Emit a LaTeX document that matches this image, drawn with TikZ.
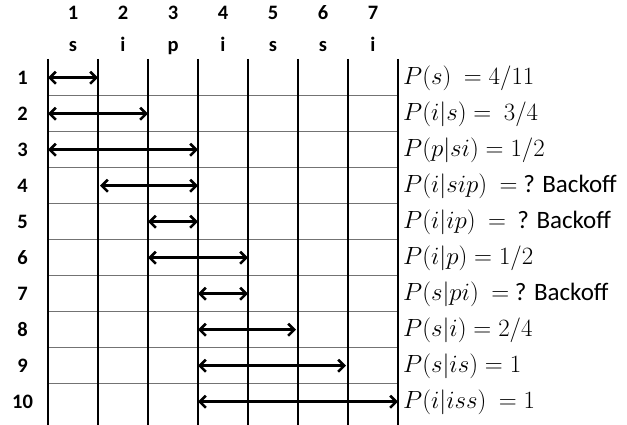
\documentclass[tikz,border=0pt]{standalone}
\usepackage{fontspec}
\setmainfont{Carlito}
\usetikzlibrary{arrows.meta}
\begin{document}
\begin{tikzpicture}[x=1pt,y=-1pt,
  gridv/.style={line width=1.7pt,black},
  gridh/.style={line width=0.8pt,black!55},
  span/.style={line width=2.6pt,{Straight Barb[length=6pt,width=12pt]}-{Straight Barb[length=6pt,width=12pt]}},
  hdr/.style={anchor=base,inner sep=0pt,font=\fontsize{20.5}{24}\selectfont\bfseries},
  prob/.style={anchor=base west,inner sep=0pt,font=\fontsize{25}{30}\selectfont}]
\useasboundingbox (0,0) rectangle (627,425);
% column headers
\foreach \i/\l in {1/s,2/i,3/p,4/i,5/s,6/s,7/i}{
  \node[hdr] (num\i) at (23+50*\i,19.5) {\i};
  \node[hdr] (let\i) at (23+50*\i,51.5) {\l};
}
% vertical grid lines
\foreach \i in {0,...,7}{
  \coordinate (t\i) at (48+50*\i,59);
  \coordinate (b\i) at (48+50*\i,425);
}
% horizontal grid lines
\foreach \k in {1,...,9}{
  \coordinate (hl\k) at (48,95.7+36*\k-36);
  \coordinate (hr\k) at (398,95.7+36*\k-36);
  \draw[gridh] (hl\k) -- (hr\k);
}
\foreach \i in {0,...,7}{
  \draw[gridv] (t\i) -- (b\i);
}
% rows
\foreach \r/\a/\b in {1/0/1,2/0/2,3/0/3,4/1/3,5/2/3,6/2/4,7/3/4,8/3/5,9/3/6,10/3/7}{
  \node[hdr] (row\r) at (22.5,84.2+36*\r-36) {\r};
  \coordinate (s\r) at (48+50*\a,77.7+36*\r-36);
  \coordinate (e\r) at (48+50*\b,77.7+36*\r-36);
  \coordinate (p\r) at (403,84.7+36*\r-36);
}
\draw[span] (s1) -- (e1);
\draw[span] (s2) -- (e2);
\draw[span] (s3) -- (e3);
\draw[span,shorten <=2pt] (s4) -- (e4);
\draw[span] (s5) -- (e5);
\draw[span] (s6) -- (e6);
\draw[span] (s7) -- (e7);
\draw[span,shorten >=2pt] (s8) -- (e8);
\draw[span,shorten >=2pt] (s9) -- (e9);
\draw[span] (s10) -- (e10);
% probabilities
\node[prob] (q1) at (p1) {$P(s)\ = 4/11$};
\node[prob] (q2) at (p2) {$P(i|s) =\ 3/4$};
\node[prob] (q3) at (p3) {$P(p|si) = 1/2$};
\node[prob] (q4) at (p4) {$P(i|sip)\ = $ ? Backoff};
\node[prob] (q5) at (p5) {$P(i|ip)\ =\ $ ? Backoff};
\node[prob] (q6) at (p6) {$P(i|p) = 1/2$};
\node[prob] (q7) at (p7) {$P(s|pi)\ = $ ? Backoff};
\node[prob] (q8) at (p8) {$P(s|i) = 2/4$};
\node[prob] (q9) at (p9) {$P(s|is) = 1$};
\node[prob] (q10) at (p10) {$P(i|iss)\ = 1$};
\end{tikzpicture}
\end{document}
